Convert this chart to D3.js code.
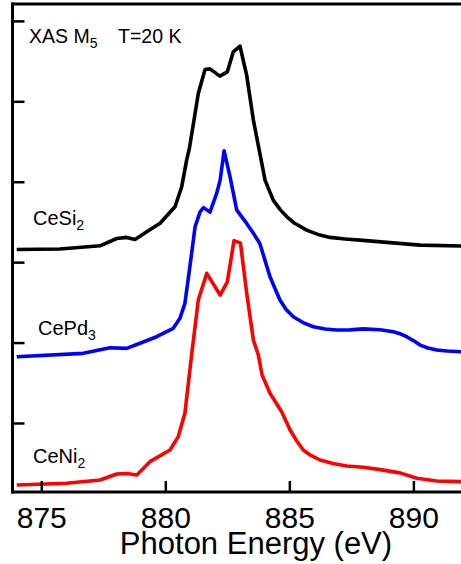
<!DOCTYPE html>
<html>
<head>
<meta charset="utf-8">
<script src="https://cdn.jsdelivr.net/npm/d3@7"></script>
<style>
  html, body { margin: 0; padding: 0; background: #fff; }
  svg { display: block; font-family: "Liberation Sans", Arial, sans-serif; }
</style>
</head>
<body>
<svg id="chart" width="461" height="564"></svg>
<script>
// ---- data (photon energy in eV, intensity in arbitrary units, offset per series) ----
const ceSi2E = [874.01, 875.75, 877.37, 878.04, 878.44, 878.78, 879.25, 879.79, 880.39, 880.66, 880.86, 880.97, 881.33, 881.60, 881.80, 882.20, 882.50, 882.74, 883.01, 883.28, 883.55, 883.89, 884.02, 884.35, 884.63, 884.90, 885.23, 885.70, 886.15, 886.64, 887.25, 887.85, 888.93, 890.27, 891.92];
const ceSi2I = [3.158, 3.163, 3.203, 3.294, 3.308, 3.283, 3.378, 3.483, 3.688, 3.937, 4.269, 4.414, 5.098, 5.396, 5.403, 5.313, 5.366, 5.615, 5.685, 5.325, 4.766, 4.228, 4.020, 3.772, 3.653, 3.564, 3.480, 3.399, 3.345, 3.308, 3.287, 3.274, 3.246, 3.212, 3.200];

const cePd3E = [874.01, 876.69, 877.77, 878.44, 878.98, 879.65, 880.32, 880.59, 880.79, 880.99, 881.20, 881.40, 881.54, 881.80, 882.07, 882.21, 882.37, 882.61, 882.88, 883.28, 883.55, 883.81, 884.22, 884.62, 884.87, 885.16, 885.55, 885.97, 886.44, 886.91, 887.45, 887.98, 888.66, 889.19, 889.46, 889.73, 890.00, 890.27, 890.59, 890.94, 891.36, 891.92];
const cePd3I = [1.824, 1.866, 1.936, 1.928, 1.991, 2.073, 2.177, 2.301, 2.488, 2.943, 3.440, 3.626, 3.678, 3.622, 3.855, 4.020, 4.384, 4.061, 3.647, 3.482, 3.358, 3.233, 2.818, 2.529, 2.411, 2.321, 2.249, 2.197, 2.168, 2.156, 2.158, 2.170, 2.160, 2.135, 2.110, 2.073, 2.025, 1.969, 1.932, 1.907, 1.895, 1.886];

const ceNi2E = [874.01, 876.02, 877.37, 878.04, 878.44, 878.85, 879.38, 880.19, 880.52, 880.79, 880.92, 881.06, 881.33, 881.67, 882.21, 882.50, 882.77, 883.03, 883.28, 883.55, 883.75, 883.90, 884.22, 884.69, 885.03, 885.30, 885.56, 885.87, 886.24, 886.76, 887.31, 887.98, 888.66, 889.46, 890.14, 890.94, 891.92];
const ceNi2I = [0.229, 0.251, 0.292, 0.366, 0.372, 0.354, 0.519, 0.664, 0.830, 1.121, 1.472, 1.845, 2.529, 2.861, 2.591, 2.756, 3.268, 3.237, 2.616, 2.032, 1.845, 1.597, 1.369, 1.140, 0.913, 0.776, 0.664, 0.596, 0.540, 0.497, 0.466, 0.449, 0.420, 0.380, 0.313, 0.279, 0.271];

const seriesNames = ["CeSi", "CePd", "CeNi"];
const seriesSubs = ["2", "3", "2"];
const xTicks = [875, 880, 885, 890];
const yTicks = [1, 2, 3, 4, 5, 6];

// ---- layout ----
const svg = d3.select("#chart");
const mLeft = 12.5, mBottom = 492, mTop = 4, mRight = 463;
const x = d3.scaleLinear().domain([873.84, 892.0]).range([mLeft, mRight]);
const y = d3.scaleLinear().domain([0.142, 6.21]).range([mBottom, mTop]);

const series = [
  {E: ceSi2E, I: ceSi2I, color: "#000000"},
  {E: cePd3E, I: cePd3I, color: "#0000ff"},
  {E: ceNi2E, I: ceNi2I, color: "#ff0000"}
];

const line = d3.line().x(d => x(d[0])).y(d => y(d[1])).curve(d3.curveLinear);

series.forEach(s => {
  svg.append("path")
    .datum(s.E.map((e, i) => [e, s.I[i]]))
    .attr("fill", "none")
    .attr("stroke", s.color)
    .attr("stroke-width", 3.6)
    .attr("stroke-linejoin", "round")
    .attr("d", line);
});

// ---- axes ----
const xAxis = d3.axisBottom(x).tickValues(xTicks).tickSize(-11).tickPadding(15).tickFormat(d3.format("d"));
const gx = svg.append("g").attr("transform", `translate(0,${mBottom})`).call(xAxis);
gx.select(".domain").remove();
gx.selectAll(".tick line").attr("stroke", "#000").attr("stroke-width", 2.5);
gx.selectAll(".tick text").attr("font-size", 30).attr("fill", "#000")
  .attr("font-family", "Liberation Sans, Arial, sans-serif");

const yAxis = d3.axisLeft(y).tickValues(yTicks).tickSize(-12).tickFormat("");
const gy = svg.append("g").attr("transform", `translate(${mLeft},0)`).call(yAxis);
gy.select(".domain").remove();
gy.selectAll(".tick line").attr("stroke", "#000").attr("stroke-width", 2.5);

// frame lines
svg.append("line").attr("x1", mLeft).attr("x2", mLeft).attr("y1", mTop - 1.5).attr("y2", mBottom + 1.5)
  .attr("stroke", "#000").attr("stroke-width", 3);
svg.append("line").attr("x1", mLeft - 1.5).attr("x2", 461).attr("y1", mBottom).attr("y2", mBottom)
  .attr("stroke", "#000").attr("stroke-width", 3);
svg.append("line").attr("x1", mLeft - 1.5).attr("x2", 461).attr("y1", mTop).attr("y2", mTop)
  .attr("stroke", "#000").attr("stroke-width", 3);

// axis title
svg.append("text").attr("x", 256).attr("y", 554).attr("text-anchor", "middle")
  .attr("font-size", 31).attr("fill", "#000").text("Photon Energy (eV)");

// annotation
const ann = svg.append("text").attr("x", 29).attr("y", 43).attr("font-size", 19.5).attr("fill", "#000");
ann.append("tspan").text("XAS M");
ann.append("tspan").attr("font-size", 14).attr("dy", 5).text("5");
ann.append("tspan").attr("x", 118).attr("dy", -5).text("T=20 K");

// series labels
const labelPos = [[33, 225], [38, 335], [33, 463]];
seriesNames.forEach((n, i) => {
  const t = svg.append("text").attr("x", labelPos[i][0]).attr("y", labelPos[i][1])
    .attr("font-size", 20).attr("fill", "#000");
  t.append("tspan").text(n);
  t.append("tspan").attr("font-size", 14).attr("dy", 5).text(seriesSubs[i]);
});
</script>
</body>
</html>
